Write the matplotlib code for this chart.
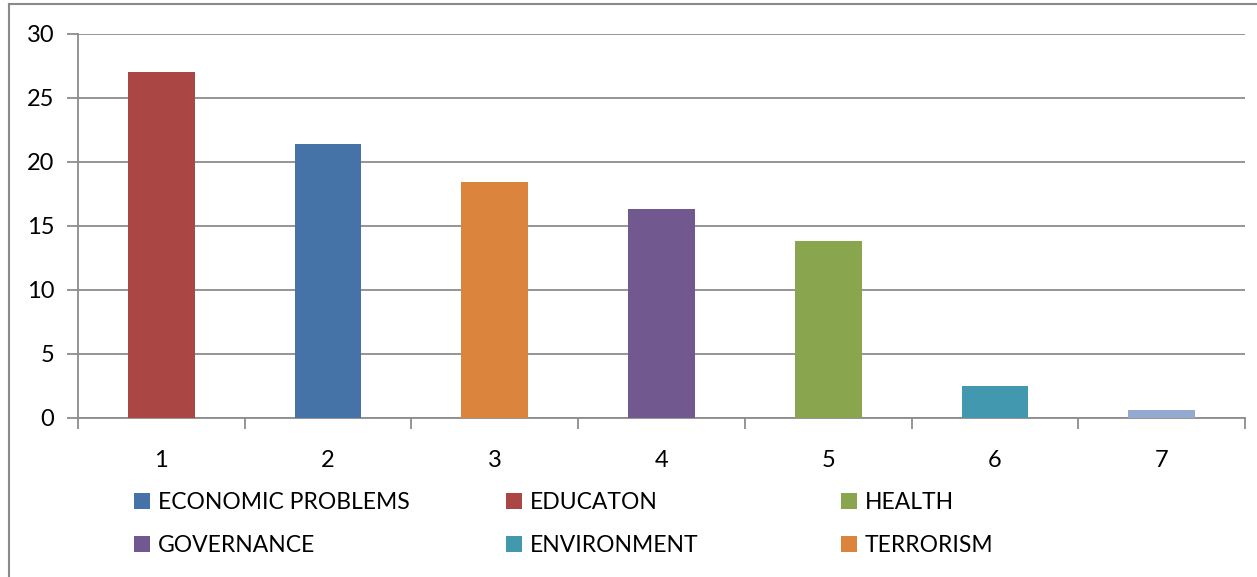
import numpy as np
import matplotlib.pyplot as plt
from matplotlib.lines import Line2D
from matplotlib.patches import Patch

plt.rcParams['font.family'] = ['Lato', 'DejaVu Sans']

positions = [1, 2, 3, 4, 5, 6, 7]
values = [27.0, 21.4, 18.4, 16.3, 13.8, 2.5, 0.6]
bar_colors = ['#AA4643', '#4572A7', '#DB843D', '#71588F', '#89A54E', '#4198AF', '#93A9D0']

# legend entries, laid out in three columns of two rows
legend_cols = [
    [('ECONOMIC PROBLEMS', '#4572A7'), ('GOVERNANCE', '#71588F')],
    [('EDUCATON', '#AA4643'), ('ENVIRONMENT', '#4198AF')],
    [('HEALTH', '#89A54E'), ('TERRORISM', '#DB843D')],
]
legend_x = [134, 506, 841]

W, H = 1257, 577
fig = plt.figure(figsize=(W / 100, H / 100), dpi=100)
ax = fig.add_axes([78 / W, 1 - 418 / H, (1245 - 78) / W, (418 - 34) / H])

x = np.arange(len(values))
ax.bar(x, values, width=0.4, color=bar_colors, zorder=3)

grid_c = '#8c8c8c'
ax.set_xlim(-0.5, len(values) - 0.5)
ax.set_ylim(0, 30)
ax.set_yticks(np.arange(0, 31, 5))
ax.yaxis.grid(True, color=grid_c, linewidth=1.3, zorder=0)
ax.set_xticks(x)
ax.set_xticklabels([str(p) for p in positions])
ax.set_xticks(np.arange(-0.5, len(values), 1), minor=True)

for s in ['top', 'right']:
    ax.spines[s].set_visible(False)
for s in ['left', 'bottom']:
    ax.spines[s].set_color(grid_c)
    ax.spines[s].set_linewidth(1.3)

ax.tick_params(axis='y', length=8, width=1.3, color=grid_c, pad=9, labelsize=17)
ax.tick_params(axis='x', which='major', length=0, pad=23, labelsize=17)
ax.tick_params(axis='x', which='minor', length=8, width=1.3, color=grid_c)

for col, lx in zip(legend_cols, legend_x):
    handles = [Patch(facecolor=c, edgecolor='none') for _, c in col]
    labels = [t for t, _ in col]
    fig.legend(handles, labels, loc='upper left',
               bbox_to_anchor=(lx / W, 1 - 492 / H), frameon=False,
               fontsize=16.5, handlelength=0.7, handleheight=0.7,
               handletextpad=0.35, labelspacing=0.95, borderpad=0, borderaxespad=0)

# outer chart frame
fig.add_artist(Line2D([8.5 / W, 8.5 / W], [0, 1 - 4 / H], color='#8a8a8a', lw=1.5))
fig.add_artist(Line2D([8.5 / W, 1], [1 - 4 / H, 1 - 4 / H], color='#8a8a8a', lw=1.5))

fig.savefig('out.png', dpi=100)
